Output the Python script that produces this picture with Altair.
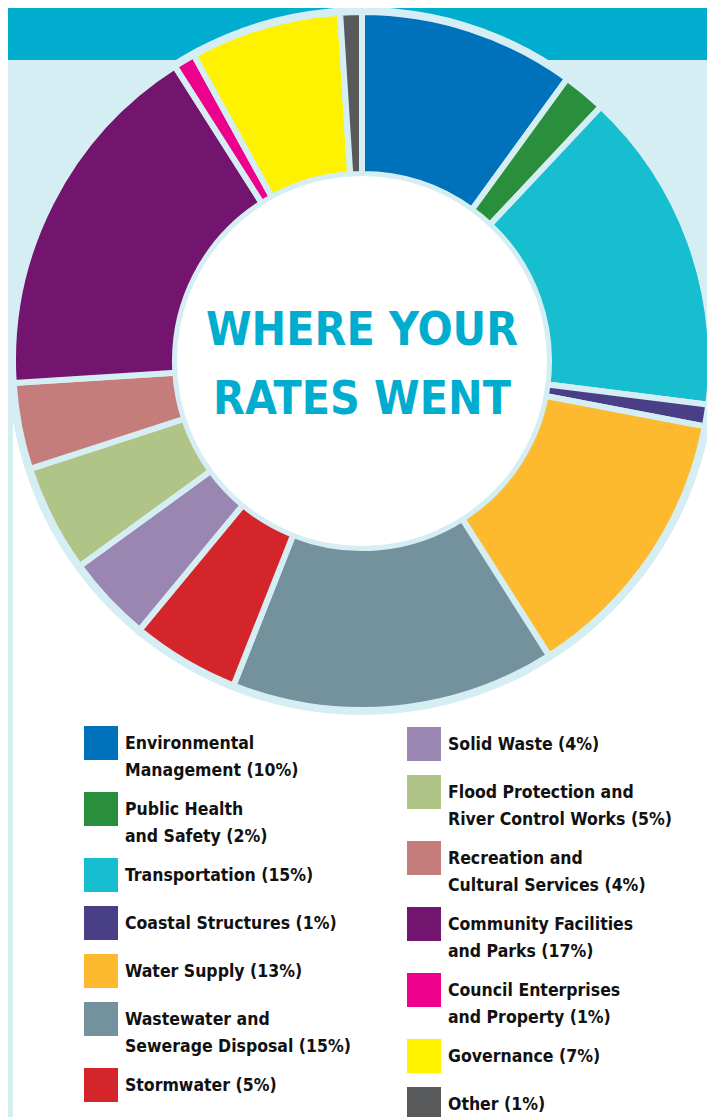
import math
import altair as alt
import pandas as pd

# ---------------- data ----------------
categories = [
    "Environmental Management", "Public Health and Safety", "Transportation",
    "Coastal Structures", "Water Supply", "Wastewater and Sewerage Disposal",
    "Stormwater", "Solid Waste", "Flood Protection and River Control Works",
    "Recreation and Cultural Services", "Community Facilities and Parks",
    "Council Enterprises and Property", "Governance", "Other",
]
values = [10, 2, 15, 1, 13, 15, 5, 4, 5, 4, 17, 1, 7, 1]
colors = [
    "#0072bb", "#2a8f3c", "#17bed0", "#483f87", "#fdba2f", "#74919e",
    "#d4252b", "#9986b1", "#b0c487", "#c47d7b", "#73146f", "#ec008c",
    "#fff200", "#58595b",
]
legend_lines = [
    ["Environmental", "Management (10%)"],
    ["Public Health", "and Safety (2%)"],
    ["Transportation (15%)"],
    ["Coastal Structures (1%)"],
    ["Water Supply (13%)"],
    ["Wastewater and", "Sewerage Disposal (15%)"],
    ["Stormwater (5%)"],
    ["Solid Waste (4%)"],
    ["Flood Protection and", "River Control Works (5%)"],
    ["Recreation and", "Cultural Services (4%)"],
    ["Community Facilities", "and Parks (17%)"],
    ["Council Enterprises", "and Property (1%)"],
    ["Governance (7%)"],
    ["Other (1%)"],
]
title_lines = ["WHERE YOUR", "RATES WENT"]

# ---------------- layout / style ----------------
W, H = 699, 1109
CX, CY = 354, 353
LIGHT = "#d5eef3"
TEAL = "#00adcf"
FONT = "DejaVu Sans Condensed, Roboto Condensed, Liberation Sans, sans-serif"

df = pd.DataFrame({"cat": categories, "value": values, "idx": list(range(len(values)))})
color_scale = alt.Scale(domain=categories, range=colors)

one = pd.DataFrame({"a": [0]})

bg_band = alt.Chart(one).mark_rect(color=TEAL).encode(
    x=alt.value(0), x2=alt.value(W), y=alt.value(0), y2=alt.value(52))
bg_white = alt.Chart(one).mark_rect(color="white").encode(
    x=alt.value(5), x2=alt.value(W), y=alt.value(372), y2=alt.value(H))

halo = alt.Chart(one).mark_arc(color=LIGHT, theta=0, theta2=2 * math.pi, radius=354).encode(
    x=alt.value(CX), y=alt.value(CY))

donut = alt.Chart(df).mark_arc(radius=349, radius2=187, stroke=LIGHT, strokeWidth=6).encode(
    theta=alt.Theta("value:Q", stack=True),
    order=alt.Order("idx:Q", sort="ascending"),
    color=alt.Color("cat:N", scale=color_scale, legend=None, sort=categories),
    x=alt.value(CX), y=alt.value(CY),
)

hole = alt.Chart(one).mark_arc(color="white", theta=0, theta2=2 * math.pi, radius=185).encode(
    x=alt.value(CX), y=alt.value(CY))

title_df = pd.DataFrame({"t": title_lines, "ty": [323, 392], "tx": [CX, CX]})
title = alt.Chart(title_df).mark_text(
    font=FONT, fontWeight="bold", fontSize=46, color=TEAL, align="center", baseline="middle"
).encode(x=alt.X("tx:Q", scale=None), y=alt.Y("ty:Q", scale=None), text="t:N")

# legend layout (two columns, 7 entries each)
rows_sq, rows_tx = [], []
cols = [(76, 117, 718), (399, 440, 719)]
for c, (sx, tx, top) in enumerate(cols):
    y = top
    for k in range(7):
        i = c * 7 + k
        lines = legend_lines[i]
        rows_sq.append({"cat": categories[i], "x": sx, "x2": sx + 34, "y": y, "y2": y + 34})
        for j, ln in enumerate(lines):
            rows_tx.append({"t": ln, "x": tx, "y": y + 18 + 27 * j})
        y += 66 if len(lines) == 2 else 48

leg_sq = alt.Chart(pd.DataFrame(rows_sq)).mark_rect().encode(
    x=alt.X("x:Q", scale=None), x2="x2:Q", y=alt.Y("y:Q", scale=None), y2="y2:Q",
    color=alt.Color("cat:N", scale=color_scale, legend=None),
)
leg_tx = alt.Chart(pd.DataFrame(rows_tx)).mark_text(
    font=FONT, fontWeight="bold", fontSize=17.5, color="#111111", align="left", baseline="middle"
).encode(x=alt.X("x:Q", scale=None), y=alt.Y("y:Q", scale=None), text="t:N")

chart = alt.layer(bg_band, bg_white, halo, donut, hole, title, leg_sq, leg_tx).properties(
    width=W, height=H, padding=0, autosize=alt.AutoSizeParams(type="none"),
    background=LIGHT,
).configure_view(stroke=None)

chart.save("out.html", embed_options={"renderer": "svg", "actions": False})
